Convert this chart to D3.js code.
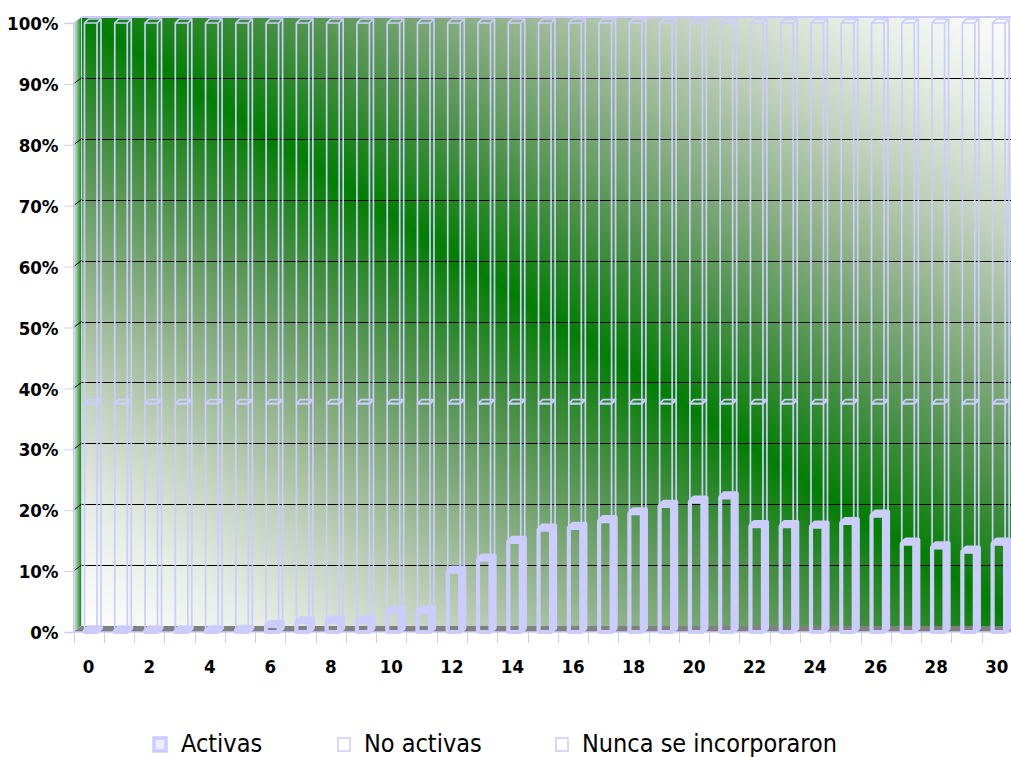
<!DOCTYPE html>
<html>
<head>
<meta charset="utf-8">
<script src="https://cdn.jsdelivr.net/npm/d3@7"></script>
<style>
  html, body { margin: 0; padding: 0; background: #fff; }
  svg { display: block; }
  .lbl { font-family: "DejaVu Sans Condensed", "DejaVu Sans", sans-serif; font-stretch: condensed; }
</style>
</head>
<body>
<svg class="chart-svg"></svg>
<script>
// categories (years) and stacked shares in %
const categories = d3.range(0, 31).map(String);
const xTickLabels = ["0","2","4","6","8","10","12","14","16","18","20","22","24","26","28","30"];
const yTicks = [0,10,20,30,40,50,60,70,80,90,100];

const activas = [0.1,0.1,0.1,0.1,0.1,0.2,1.0,1.6,1.7,1.7,3.3,3.3,9.9,11.9,14.8,16.8,17.1,18.2,19.5,20.7,21.4,22.1,17.4,17.4,17.3,17.9,19.1,14.5,13.9,13.2,14.5];
const noActivas = [37.4,37.4,37.4,37.4,37.4,37.3,36.5,35.9,35.8,35.8,34.2,34.2,27.6,25.6,22.7,20.7,20.4,19.3,18.0,16.8,16.1,15.4,20.1,20.1,20.2,19.6,18.4,23.0,23.6,24.3,23.0];
const nunca = [62.5,62.5,62.5,62.5,62.5,62.5,62.5,62.5,62.5,62.5,62.5,62.5,62.5,62.5,62.5,62.5,62.5,62.5,62.5,62.5,62.5,62.5,62.5,62.5,62.5,62.5,62.5,62.5,62.5,62.5,62.5];

const seriesNames = ["Activas", "No activas", "Nunca se incorporaron"];

const W = 1011, H = 757;
const lav = "#ccccff";
const depth = {dx: 8, dy: -6};   // wall depth
const bd = {dx: 4, dy: -4};      // bar depth

const svg = d3.select(".chart-svg").attr("width", W).attr("height", H);
const defs = svg.append("defs");

const x = d3.scaleBand().domain(categories).range([73.5, 73.5 + 31 * 30.27]).padding(0);
const y = d3.scaleLinear().domain([0, 100]).range([632, 23]);

// back wall gradient (diagonal band of green)
const g1 = defs.append("linearGradient").attr("id", "wall")
  .attr("x1", 0).attr("y1", 1).attr("x2", 1).attr("y2", 0);
[[0,"#ffffff"],[0.1,"#e7ede4"],[0.2,"#bfd0b9"],[0.3,"#88ae82"],[0.4,"#4a9146"],[0.5,"#027e02"],
 [0.6,"#4a9146"],[0.7,"#88ae82"],[0.8,"#bfd0b9"],[0.9,"#e7ede4"],[1,"#ffffff"]]
  .forEach(([o,c]) => g1.append("stop").attr("offset", o).attr("stop-color", c));

const g2 = defs.append("linearGradient").attr("id", "side")
  .attr("x1", 0).attr("y1", 0).attr("x2", 1).attr("y2", 0);
g2.append("stop").attr("offset", 0).attr("stop-color", "#eef2ee");
g2.append("stop").attr("offset", 1).attr("stop-color", "#0a870a");

const x0 = x.range()[0], x1 = x.range()[1];

// back wall
svg.append("rect")
  .attr("x", x0 + depth.dx).attr("y", y(100) + depth.dy)
  .attr("width", x1 - x0 + 10).attr("height", y(0) - y(100))
  .attr("fill", "url(#wall)");

// gridlines on back wall
const grid = svg.append("g").attr("stroke", "#000").attr("stroke-width", 1);
grid.selectAll("line").data(yTicks.filter(d => d > 0 && d < 100)).join("line")
  .attr("x1", x0 + depth.dx).attr("x2", x1 + 10)
  .attr("y1", d => Math.round(y(d) + depth.dy) + 0.5)
  .attr("y2", d => Math.round(y(d) + depth.dy) + 0.5);

// left wall
svg.append("polygon")
  .attr("points", [[x0, y(0)], [x0 + depth.dx, y(0) + depth.dy], [x0 + depth.dx, y(100) + depth.dy], [x0, y(100)]].join(" "))
  .attr("fill", "url(#side)").attr("stroke", lav).attr("stroke-width", 1);
svg.append("g").attr("stroke", "#000").selectAll("line").data(yTicks.filter(d => d > 0 && d < 100)).join("line")
  .attr("x1", x0).attr("x2", x0 + depth.dx)
  .attr("y1", d => y(d)).attr("y2", d => y(d) + depth.dy);

// top edge of back wall
svg.append("line")
  .attr("x1", x0 + depth.dx).attr("x2", x1 + 10)
  .attr("y1", y(100) + depth.dy).attr("y2", y(100) + depth.dy)
  .attr("stroke", lav).attr("stroke-width", 2);

// floor
svg.append("polygon")
  .attr("points", [[x0, y(0)], [x0 + depth.dx, y(0) + depth.dy], [x1 + 20, y(0) + depth.dy], [x1 + 12, y(0)]].join(" "))
  .attr("fill", "#808080");

// stacked 3D bars
const stack = categories.map((c, i) => {
  const a = activas[i], b = noActivas[i], n = nunca[i];
  return [
    {c, s: 0, y0: 0, y1: a, sw: 4.2},
    {c, s: 1, y0: a, y1: a + b, sw: 1.7},
    {c, s: 2, y0: a + b, y1: a + b + n, sw: 1.7}
  ];
}).flat();

const bw = 12.5;
function boxPaths(d) {
  const xl = x(d.c) + 11, xr = xl + bw;
  const yt = y(d.y1), yb = y(d.y0);
  const front = `M${xl},${yb}L${xl},${yt}L${xr},${yt}L${xr},${yb}Z`;
  const top = `M${xl},${yt}L${xl + bd.dx},${yt + bd.dy}L${xr + bd.dx},${yt + bd.dy}L${xr},${yt}`;
  const side = `M${xr},${yt}L${xr + bd.dx},${yt + bd.dy}L${xr + bd.dx},${yb + bd.dy}L${xr},${yb}`;
  return front + top + side;
}

svg.append("g").selectAll("path").data(stack).join("path")
  .attr("d", boxPaths)
  .attr("fill", "none")
  .attr("stroke", lav)
  .attr("stroke-width", d => d.sw)
  .attr("stroke-linejoin", "round");

// y axis
const yAxis = svg.append("g").attr("transform", `translate(${x0},0)`)
  .call(d3.axisLeft(y).tickValues(yTicks).tickFormat(d => d + "%").tickSize(9).tickPadding(6));
yAxis.select(".domain").attr("stroke", lav).attr("stroke-width", 1.5);
yAxis.selectAll(".tick line").attr("stroke", lav);
yAxis.selectAll(".tick text")
  .attr("class", "lbl").attr("font-size", 18.5).attr("font-weight", "bold").attr("fill", "#000")
  .attr("dy", "0.36em");

// x axis
svg.append("line").attr("x1", x0).attr("x2", x1 + 12).attr("y1", y(0)).attr("y2", y(0))
  .attr("stroke", lav).attr("stroke-width", 1.5);
svg.append("g").attr("stroke", lav).selectAll("line").data(d3.range(0, 32)).join("line")
  .attr("x1", i => Math.round(x0 + i * x.step()) + 0.5)
  .attr("x2", i => Math.round(x0 + i * x.step()) + 0.5)
  .attr("y1", y(0)).attr("y2", y(0) + 11);

const xAxis = svg.append("g").attr("transform", `translate(0,${y(0)})`)
  .call(d3.axisBottom(x).tickValues(xTickLabels).tickSize(0));
xAxis.select(".domain").remove();
xAxis.selectAll(".tick text")
  .attr("class", "lbl").attr("font-size", 18.5).attr("font-weight", "bold").attr("fill", "#000")
  .attr("dy", null).attr("y", 41);

// legend
const legX = [153, 337, 555];
const legTextX = [181, 364, 582];
const leg = svg.append("g");
seriesNames.forEach((name, i) => {
  leg.append("rect")
    .attr("x", legX[i] + 1).attr("y", 738).attr("width", 12).attr("height", 13)
    .attr("fill", i === 0 ? "#eeeeff" : "#fff")
    .attr("stroke", lav).attr("stroke-width", i === 0 ? 3.5 : 1.5);
  leg.append("text").attr("class", "lbl")
    .attr("x", legTextX[i]).attr("y", 752)
    .attr("font-size", 25).attr("fill", "#000")
    .text(name);
});
</script>
</body>
</html>
